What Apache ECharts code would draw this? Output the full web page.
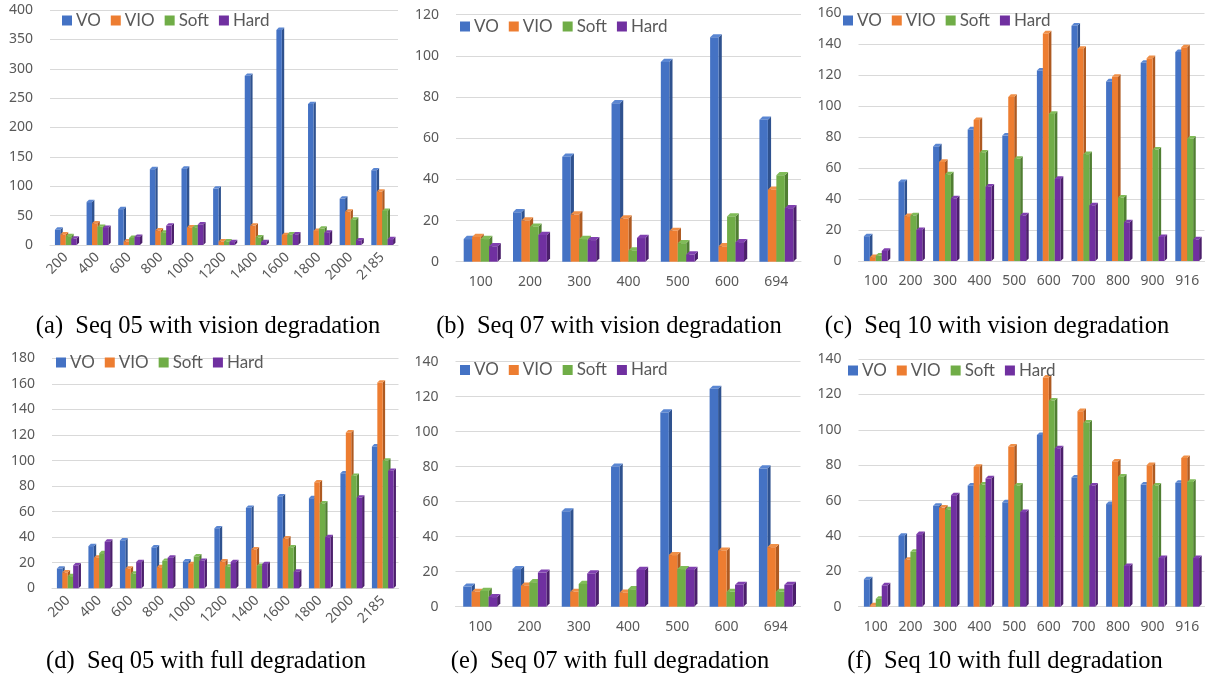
<!DOCTYPE html>
<html><head><meta charset="utf-8">
<script src="https://cdn.jsdelivr.net/npm/echarts@6/dist/echarts.min.js"></script>
<style>html,body{margin:0;padding:0;background:#fff}#c{width:1205px;height:678px}</style>
</head><body><div id="c"></div>
<script>
const seriesNames = ['VO', 'VIO', 'Soft', 'Hard'];
const catsSeq05 = ['200','400','600','800','1000','1200','1400','1600','1800','2000','2185'];
const catsSeq07 = ['100','200','300','400','500','600','694'];
const catsSeq10 = ['100','200','300','400','500','600','700','800','900','916'];

// (a) Seq 05 with vision degradation
const aVO   = [26, 73, 61, 129, 130, 96, 288, 366, 240, 79, 127];
const aVIO  = [18, 37, 6, 25, 30, 6, 33, 17, 24, 57, 91];
const aSoft = [15, 31, 12, 21, 30, 6, 13, 18, 28, 43, 58];
const aHard = [11, 29, 14, 33, 35, 5, 5, 18, 21, 8, 10];
// (b) Seq 07 with vision degradation
const bVO   = [11, 24, 51, 77, 97, 109, 69];
const bVIO  = [12, 20, 23, 21, 15, 7.5, 35];
const bSoft = [11, 17, 11, 5.5, 9, 22, 42];
const bHard = [7.5, 13, 10.5, 11.5, 3.5, 9.5, 26];
// (c) Seq 10 with vision degradation
const cVO   = [16, 51, 74, 85, 81, 123, 152, 116, 128, 135];
const cVIO  = [2.5, 29, 64, 91, 106, 147, 137, 119, 131, 138];
const cSoft = [3.5, 29.5, 56, 70, 66, 95, 69, 41, 72, 79];
const cHard = [6.5, 20, 40.5, 48, 29.5, 53, 36, 25, 15.5, 14];
// (d) Seq 05 with full degradation
const dVO   = [15.5, 33, 37.5, 32, 21, 47, 63, 72, 70.5, 90, 111];
const dVIO  = [12.5, 24, 15.5, 16.5, 19, 21, 30.5, 39, 83, 122, 161];
const dSoft = [9.5, 27.5, 11.5, 21.5, 25, 17, 17.5, 32, 66.5, 88, 100];
const dHard = [18, 36.5, 20.5, 24, 21.5, 20.5, 19, 13, 40, 71, 92];
// (e) Seq 07 with full degradation
const eVO   = [11.5, 21.5, 54.5, 80, 111, 124.5, 79];
const eVIO  = [8.5, 12, 8.5, 8, 29.5, 32, 34];
const eSoft = [9, 14, 13, 10, 21.5, 8.5, 8.5];
const eHard = [5.5, 19.5, 19, 21, 21, 12.5, 12.5];
// (f) Seq 10 with full degradation
const fVO   = [15.5, 40, 57, 68.5, 59, 97, 73, 58, 69, 70];
const fVIO  = [0.8, 26.5, 56, 79, 90.5, 129.5, 110.5, 82, 80, 84];
const fSoft = [4.5, 31, 55, 69, 68.5, 116.5, 104, 73.5, 68.5, 70.5];
const fHard = [12, 41, 63, 72.5, 53.5, 89.5, 68.5, 23, 27.5, 27.5];

const yMax = [400, 120, 160, 180, 140, 140];
const yInterval = [50, 20, 20, 20, 20, 20];
const captions = ['(a)  Seq 05 with vision degradation', '(b)  Seq 07 with vision degradation',
  '(c)  Seq 10 with vision degradation', '(d)  Seq 05 with full degradation',
  '(e)  Seq 07 with full degradation', '(f)  Seq 10 with full degradation'];

const panels = [
  {cats: catsSeq05, vals: [aVO, aVIO, aSoft, aHard]},
  {cats: catsSeq07, vals: [bVO, bVIO, bSoft, bHard]},
  {cats: catsSeq10, vals: [cVO, cVIO, cSoft, cHard]},
  {cats: catsSeq05, vals: [dVO, dVIO, dSoft, dHard]},
  {cats: catsSeq07, vals: [eVO, eVIO, eSoft, eHard]},
  {cats: catsSeq10, vals: [fVO, fVIO, fSoft, fHard]}
];

// layout
const grids = [
  {left: 50, top: 10, width: 348, height: 235},
  {left: 456, top: 14.7, width: 345, height: 247},
  {left: 858.5, top: 13.3, width: 346, height: 247.7},
  {left: 52, top: 358.3, width: 346.5, height: 230},
  {left: 455.5, top: 361.7, width: 345, height: 245},
  {left: 858.5, top: 359, width: 346, height: 247.7}
];
const legendPos = [
  {left: 62, top: 12}, {left: 460, top: 18}, {left: 843, top: 12},
  {left: 56, top: 354}, {left: 460, top: 361.5}, {left: 848, top: 362}
];
const captionPos = [[208, 327], [609, 327], [997, 327], [206, 662], [610, 662], [1005, 662]];
const rotated = [true, false, false, true, false, false];

const front = ['#4472C4', '#ED7D31', '#70AD47', '#7030A0'];
const side  = ['#2F528F', '#AE5A21', '#507E32', '#4B1F6B'];
const topc  = ['#5A86D2', '#F09048', '#80BC58', '#8040B0'];

function makeRender(si) {
  return function (params, api) {
    const cat = api.value(0), val = api.value(1);
    const base = api.coord([cat, 0]);
    const tp = api.coord([cat, val]);
    const band = api.size([1, 0])[0];
    const bw = band * 0.172;
    const d = Math.min(3.2, band * 0.075);
    const x0 = base[0] - 2 * bw + si * bw;
    const y0 = base[1], y1 = tp[1];
    return {
      type: 'group',
      children: [
        {type: 'polygon', shape: {points: [[x0 + bw, y1], [x0 + bw + d, y1 - d], [x0 + bw + d, y0 - d], [x0 + bw, y0]]}, style: {fill: side[si]}},
        {type: 'polygon', shape: {points: [[x0, y1], [x0 + d, y1 - d], [x0 + bw + d, y1 - d], [x0 + bw, y1]]}, style: {fill: topc[si]}},
        {type: 'rect', shape: {x: x0, y: y1, width: bw, height: y0 - y1}, style: {fill: front[si]}}
      ]
    };
  };
}

const option = {
  animation: false,
  backgroundColor: '#fff',
  grid: [], xAxis: [], yAxis: [], series: [], legend: [], graphic: []
};

panels.forEach((p, gi) => {
  option.grid.push(Object.assign({containLabel: false}, grids[gi]));
  option.xAxis.push({
    type: 'category', gridIndex: gi, data: p.cats,
    axisLine: {show: true, lineStyle: {color: '#d9d9d9'}},
    axisTick: {show: false},
    axisLabel: {color: '#595959', fontSize: 14, fontFamily: 'Noto Sans',
      rotate: rotated[gi] ? 45 : 0, margin: rotated[gi] ? 10 : 13, interval: 0}
  });
  option.yAxis.push({
    type: 'value', gridIndex: gi, min: 0, max: yMax[gi], interval: yInterval[gi],
    axisLine: {show: false}, axisTick: {show: false},
    splitLine: {lineStyle: {color: '#d9d9d9'}},
    axisLabel: {color: '#595959', fontSize: 14, fontFamily: 'Noto Sans', margin: 17}
  });
  p.vals.forEach((arr, si) => {
    option.series.push({
      type: 'custom', name: seriesNames[si], xAxisIndex: gi, yAxisIndex: gi,
      itemStyle: {color: front[si]},
      renderItem: makeRender(si),
      encode: {x: 0, y: 1},
      clip: false,
      data: arr.map((v, i) => [i, v])
    });
  });
  option.legend.push(Object.assign({
    data: seriesNames, orient: 'horizontal', itemWidth: 10, itemHeight: 10, itemGap: 10,
    icon: 'rect', selectedMode: false, padding: 0,
    textStyle: {color: '#595959', fontSize: 17, fontFamily: 'Lato', padding: [0, 0, 0, -1]}
  }, legendPos[gi]));
  option.graphic.push({
    type: 'text', x: captionPos[gi][0], y: captionPos[gi][1],
    style: {text: captions[gi], font: '24.5px "Liberation Serif"', fill: '#000',
      textAlign: 'center', textVerticalAlign: 'middle'}
  });
});

const chart = echarts.init(document.getElementById('c'), null, {renderer: 'canvas'});
chart.setOption(option);
</script>
</body></html>
